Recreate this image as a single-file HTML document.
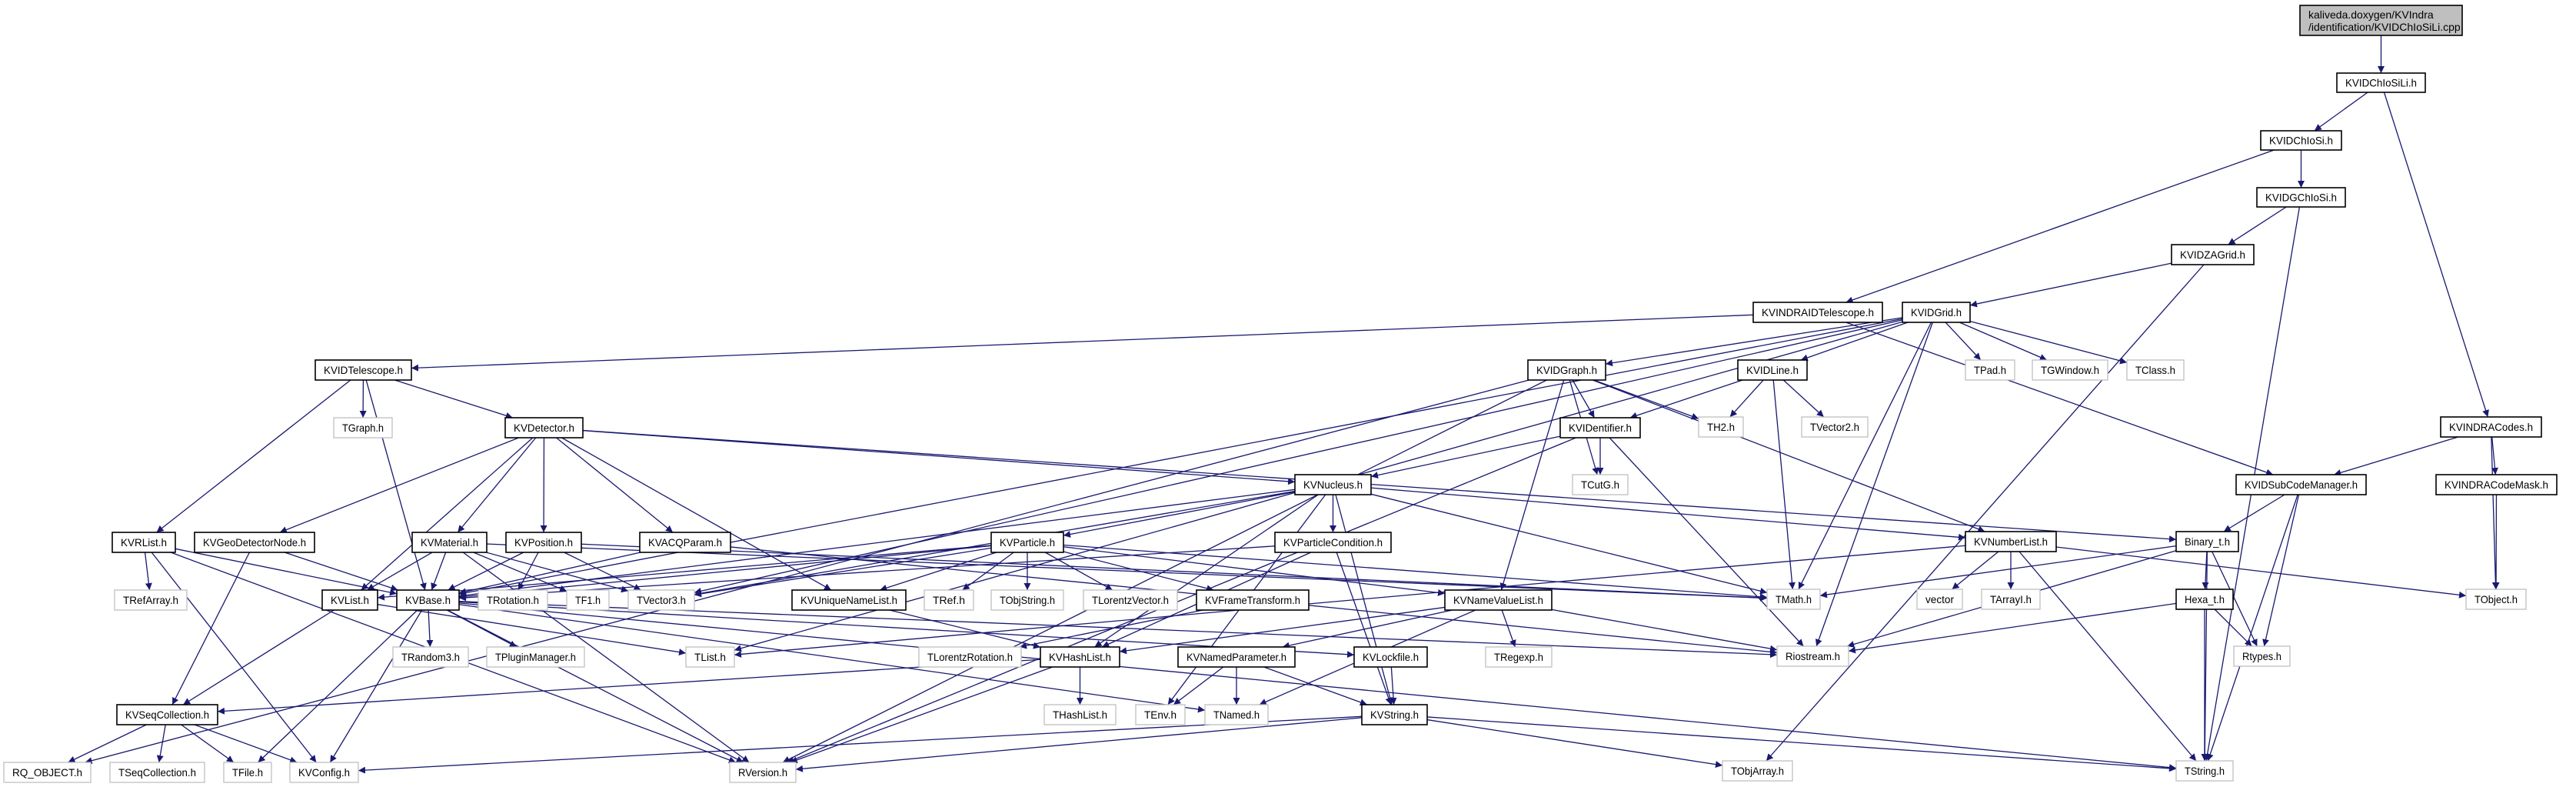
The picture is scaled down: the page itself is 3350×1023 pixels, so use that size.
<!DOCTYPE html>
<html><head><meta charset="utf-8"><style>
html,body{margin:0;padding:0;background:#fff;}
svg{display:block;}
text{font-family:"Liberation Sans",sans-serif;font-size:14px;fill:#000;}
</style></head><body>
<svg id="g" width="3350" height="1023" xmlns="http://www.w3.org/2000/svg">
<defs><marker id="ah" viewBox="0 0 10 10" refX="10" refY="5" markerWidth="9" markerHeight="9" orient="auto-start-reverse" markerUnits="userSpaceOnUse"><path d="M0,0 L10,5 L0,10 z" fill="#191970"/></marker></defs>
<g id="edges"></g><g id="nodes"></g>
</svg>
<script>
const nodeNames=["root","KVIDChIoSiLi.h","KVIDChIoSi.h","KVIDGChIoSi.h","KVIDZAGrid.h","KVINDRAIDTelescope.h","KVIDGrid.h","KVIDLine.h","TPad.h","TGWindow.h","TClass.h","TH2.h","TVector2.h","KVINDRACodes.h","KVIDSubCodeManager.h","KVINDRACodeMask.h","KVNumberList.h","Binary_t.h","TMath.h","vector","TArrayI.h","Hexa_t.h","TObject.h","Riostream.h","Rtypes.h","TObjArray.h","TString.h","KVIDTelescope.h","TGraph.h","KVDetector.h","KVRList.h","KVGeoDetectorNode.h","KVMaterial.h","KVPosition.h","KVACQParam.h","TRefArray.h","KVList.h","KVBase.h","TRotation.h","TF1.h","TVector3.h","TRandom3.h","TPluginManager.h","TList.h","KVSeqCollection.h","RQ_OBJECT.h","TSeqCollection.h","TFile.h","KVConfig.h","RVersion.h","KVIDGraph.h","KVIDentifier.h","KVNucleus.h","TCutG.h","KVParticle.h","KVParticleCondition.h","KVUniqueNameList.h","TRef.h","TObjString.h","TLorentzVector.h","KVFrameTransform.h","KVNameValueList.h","TLorentzRotation.h","KVHashList.h","KVNamedParameter.h","KVLockfile.h","TRegexp.h","THashList.h","TEnv.h","TNamed.h","KVString.h"];
const nodeBoxes=[[2991,3202,7,39],[3039,3154,95,25],[2940,3045,170,25],[2935,3050,244,25],[2824,2931,318,26],[2280,2448,393,26],[2474,2562,393,26],[2260,2350,468,26],[2556,2620,468,26],[2643,2741,468,26],[2766,2840,468,26],[2209,2267,542,26],[2343,2429,542,26],[3174,3305,542,26],[2908,3077,617,26],[3168,3325,617,26],[2556,2674,691,26],[2830,2911,691,26],[2298,2367,766,26],[2493,2552,766,26],[2577,2653,766,26],[2830,2904,766,26],[3207,3285,766,26],[2311,2404,840,26],[2905,2978,840,26],[2240,2331,989,26],[2830,2904,989,26],[410,535,468,26],[434,510,543,26],[657,758,543,26],[146,228,692,26],[253,409,692,26],[536,633,692,26],[658,756,692,26],[832,950,692,26],[149,243,767,26],[419,491,767,26],[516,597,767,26],[622,712,767,26],[737,792,767,26],[817,903,767,26],[511,609,841,26],[633,760,841,26],[892,955,841,26],[152,283,916,26],[5,118,991,26],[143,266,991,26],[291,353,991,26],[377,466,991,26],[949,1035,991,26],[1987,2088,468,26],[2029,2133,543,26],[1684,1783,617,26],[2045,2117,617,26],[1289,1383,692,26],[1658,1809,692,26],[1030,1178,767,26],[1202,1266,767,26],[1289,1383,767,26],[1409,1531,767,26],[1556,1702,767,26],[1879,2018,767,26],[1195,1328,841,26],[1353,1456,841,26],[1532,1684,841,26],[1761,1856,841,26],[1932,2018,841,26],[1358,1451,916,26],[1477,1541,916,26],[1567,1649,916,26],[1771,1856,916,26]];
const grayNodes=["TPad.h","TGWindow.h","TClass.h","TH2.h","TVector2.h","TMath.h","vector","TArrayI.h","TObject.h","Riostream.h","Rtypes.h","TObjArray.h","TString.h","TGraph.h","TRefArray.h","TRotation.h","TF1.h","TVector3.h","TRandom3.h","TPluginManager.h","TList.h","RQ_OBJECT.h","TSeqCollection.h","TFile.h","RVersion.h","TCutG.h","TRef.h","TObjString.h","TLorentzVector.h","TLorentzRotation.h","TRegexp.h","THashList.h","TEnv.h","TNamed.h","KVConfig.h"];
const edgeList=[["root","KVIDChIoSiLi.h"],["KVIDChIoSiLi.h","KVIDChIoSi.h"],["KVIDChIoSiLi.h","KVINDRACodes.h"],["KVIDChIoSi.h","KVIDGChIoSi.h"],["KVIDChIoSi.h","KVINDRAIDTelescope.h"],["KVIDGChIoSi.h","KVIDZAGrid.h"],["KVIDGChIoSi.h","TString.h"],["KVIDZAGrid.h","KVIDGrid.h"],["KVIDZAGrid.h","TObjArray.h"],["KVINDRAIDTelescope.h","KVIDTelescope.h"],["KVINDRAIDTelescope.h","KVIDSubCodeManager.h"],["KVIDGrid.h","KVIDGraph.h"],["KVIDGrid.h","KVIDLine.h"],["KVIDGrid.h","TPad.h"],["KVIDGrid.h","TGWindow.h"],["KVIDGrid.h","TClass.h"],["KVIDGrid.h","TMath.h"],["KVIDGrid.h","Riostream.h"],["KVIDGrid.h","KVBase.h"],["KVIDGrid.h","TList.h"],["KVIDGrid.h","TVector3.h"],["KVIDGraph.h","KVIDentifier.h"],["KVIDGraph.h","TCutG.h"],["KVIDGraph.h","TH2.h"],["KVIDGraph.h","KVNameValueList.h"],["KVIDGraph.h","KVNumberList.h"],["KVIDGraph.h","RQ_OBJECT.h"],["KVIDGraph.h","RVersion.h"],["KVIDLine.h","TH2.h"],["KVIDLine.h","TVector2.h"],["KVIDLine.h","TMath.h"],["KVIDLine.h","KVIDentifier.h"],["KVIDentifier.h","KVNucleus.h"],["KVIDentifier.h","TCutG.h"],["KVIDentifier.h","Riostream.h"],["KVIDentifier.h","RVersion.h"],["KVINDRACodes.h","KVIDSubCodeManager.h"],["KVINDRACodes.h","KVINDRACodeMask.h"],["KVINDRACodes.h","TObject.h"],["KVIDSubCodeManager.h","Binary_t.h"],["KVIDSubCodeManager.h","Rtypes.h"],["KVIDSubCodeManager.h","TString.h"],["KVINDRACodeMask.h","TObject.h"],["Binary_t.h","Hexa_t.h"],["Binary_t.h","Rtypes.h"],["Binary_t.h","TString.h"],["Binary_t.h","TMath.h"],["Binary_t.h","Riostream.h"],["Hexa_t.h","Rtypes.h"],["Hexa_t.h","TString.h"],["Hexa_t.h","Riostream.h"],["KVNumberList.h","vector"],["KVNumberList.h","TArrayI.h"],["KVNumberList.h","TString.h"],["KVNumberList.h","TObject.h"],["KVNumberList.h","TList.h"],["KVIDTelescope.h","TGraph.h"],["KVIDTelescope.h","KVDetector.h"],["KVIDTelescope.h","KVRList.h"],["KVIDTelescope.h","KVBase.h"],["KVDetector.h","KVGeoDetectorNode.h"],["KVDetector.h","KVMaterial.h"],["KVDetector.h","KVPosition.h"],["KVDetector.h","KVACQParam.h"],["KVDetector.h","KVList.h"],["KVDetector.h","KVUniqueNameList.h"],["KVDetector.h","KVNucleus.h"],["KVDetector.h","Binary_t.h"],["KVRList.h","TRefArray.h"],["KVRList.h","KVBase.h"],["KVRList.h","RVersion.h"],["KVRList.h","KVConfig.h"],["KVGeoDetectorNode.h","KVSeqCollection.h"],["KVGeoDetectorNode.h","KVBase.h"],["KVMaterial.h","KVList.h"],["KVMaterial.h","KVBase.h"],["KVMaterial.h","TF1.h"],["KVMaterial.h","TVector3.h"],["KVMaterial.h","RVersion.h"],["KVMaterial.h","TMath.h"],["KVPosition.h","KVBase.h"],["KVPosition.h","TRotation.h"],["KVPosition.h","TVector3.h"],["KVPosition.h","TMath.h"],["KVACQParam.h","KVBase.h"],["KVACQParam.h","Riostream.h"],["KVList.h","KVSeqCollection.h"],["KVList.h","TList.h"],["KVBase.h","TRandom3.h"],["KVBase.h","TPluginManager.h"],["KVBase.h","TFile.h"],["KVBase.h","KVConfig.h"],["KVBase.h","RVersion.h"],["KVBase.h","TNamed.h"],["KVBase.h","TString.h"],["KVBase.h","KVLockfile.h"],["KVBase.h","Riostream.h"],["KVSeqCollection.h","RQ_OBJECT.h"],["KVSeqCollection.h","TSeqCollection.h"],["KVSeqCollection.h","TFile.h"],["KVSeqCollection.h","KVConfig.h"],["KVNucleus.h","KVParticle.h"],["KVNucleus.h","KVParticleCondition.h"],["KVNucleus.h","KVNumberList.h"],["KVNucleus.h","TVector3.h"],["KVNucleus.h","KVString.h"],["KVNucleus.h","TEnv.h"],["KVNucleus.h","TMath.h"],["KVNucleus.h","KVBase.h"],["KVNucleus.h","KVHashList.h"],["KVParticle.h","TRef.h"],["KVParticle.h","TObjString.h"],["KVParticle.h","TLorentzVector.h"],["KVParticle.h","KVFrameTransform.h"],["KVParticle.h","KVUniqueNameList.h"],["KVParticle.h","KVNameValueList.h"],["KVParticle.h","TMath.h"],["KVParticle.h","KVBase.h"],["KVParticle.h","TVector3.h"],["KVParticle.h","KVList.h"],["KVParticleCondition.h","KVBase.h"],["KVParticleCondition.h","KVString.h"],["KVParticleCondition.h","KVHashList.h"],["KVUniqueNameList.h","KVHashList.h"],["KVFrameTransform.h","TLorentzRotation.h"],["KVNameValueList.h","KVNamedParameter.h"],["KVNameValueList.h","TRegexp.h"],["KVNameValueList.h","KVHashList.h"],["KVNameValueList.h","TNamed.h"],["KVNameValueList.h","Riostream.h"],["KVNamedParameter.h","TEnv.h"],["KVNamedParameter.h","TNamed.h"],["KVNamedParameter.h","KVString.h"],["KVHashList.h","KVSeqCollection.h"],["KVHashList.h","THashList.h"],["KVHashList.h","RVersion.h"],["KVLockfile.h","KVString.h"],["KVString.h","KVConfig.h"],["KVString.h","RVersion.h"],["KVString.h","TObjArray.h"],["KVString.h","TString.h"]];
const NS="http://www.w3.org/2000/svg";
const svg=document.getElementById('g');
const eg=document.getElementById('edges'), ng=document.getElementById('nodes');
function slug(n){return n.toLowerCase().replace(/[^a-z0-9]+/g,'-').replace(/-+$/,'');}
function box(n){const b=nodeBoxes[nodeNames.indexOf(n)];return {x1:b[0],x2:b[1],y1:b[2],y2:b[2]+b[3],cx:(b[0]+b[1])/2,cy:b[2]+b[3]/2};}
function clip(b,px,py,qx,qy){
  // point on boundary of b along segment from center (px,py) toward (qx,qy)
  const dx=qx-px,dy=qy-py;let t=1;
  const hw=(b.x2-b.x1)/2,hh=(b.y2-b.y1)/2;
  if(dx!==0)t=Math.min(t,hw/Math.abs(dx));
  if(dy!==0)t=Math.min(t,hh/Math.abs(dy));
  return [px+dx*t,py+dy*t];
}
edgeList.forEach(e=>{
  const a=box(e[0]),b=box(e[1]);
  let sx=a.cx,sy=a.cy,tx=b.cx,ty=b.cy;
  const p=clip(a,a.cx,a.cy,b.cx,b.cy), q=clip(b,b.cx,b.cy,a.cx,a.cy);
  const l=document.createElementNS(NS,'line');
  l.setAttribute('x1',p[0]);l.setAttribute('y1',p[1]);l.setAttribute('x2',q[0]);l.setAttribute('y2',q[1]);
  l.setAttribute('stroke','#191970');l.setAttribute('stroke-width','1.3');l.setAttribute('marker-end','url(#ah)');
  
  
  eg.appendChild(l);
});
nodeNames.forEach((n,i)=>{
  const b=box(n);const gray=grayNodes.includes(n);
  const g=document.createElementNS(NS,'g');
  
  
  const r=document.createElementNS(NS,'rect');
  r.setAttribute('x',b.x1);r.setAttribute('y',b.y1);r.setAttribute('width',b.x2-b.x1);r.setAttribute('height',b.y2-b.y1);
  r.setAttribute('fill',n==='root'?'#bfbfbf':'#fff');
  r.setAttribute('stroke',gray?'#bfbfbf':'#000');r.setAttribute('stroke-width',gray?'1.3':'1.6');
  g.appendChild(r);
  if(n==='root'){
    [["kaliveda.doxygen/KVIndra",b.y1+17],["/identification/KVIDChIoSiLi.cpp",b.y1+33]].forEach(t=>{
      const tx=document.createElementNS(NS,'text');tx.setAttribute('x',b.x1+11);tx.setAttribute('y',t[1]);tx.textContent=t[0];g.appendChild(tx);
    });
  } else {
    const tx=document.createElementNS(NS,'text');
    tx.setAttribute('x',b.cx);tx.setAttribute('y',b.cy+5);tx.setAttribute('text-anchor','middle');
    tx.setAttribute('textLength',Math.max(10,(b.x2-b.x1)-22));tx.setAttribute('lengthAdjust','spacingAndGlyphs');
    tx.textContent=n;g.appendChild(tx);
  }
  ng.appendChild(g);
});
</script>
</body></html>
